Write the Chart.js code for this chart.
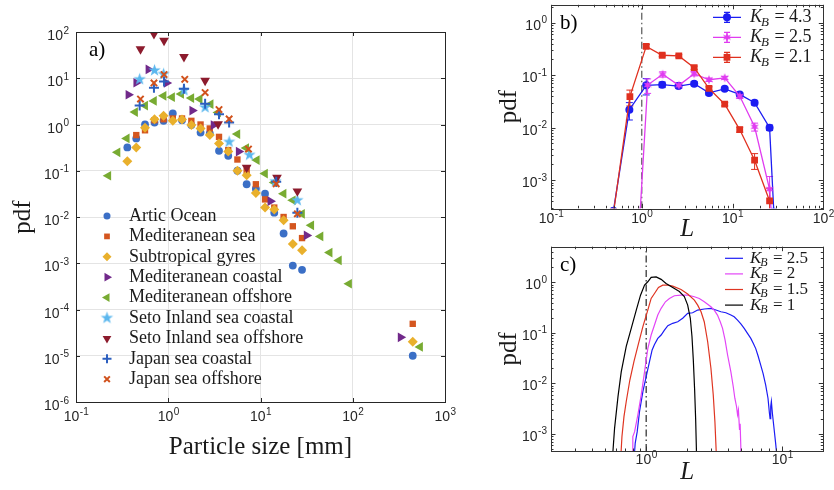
<!DOCTYPE html>
<html>
<head>
<meta charset="utf-8">
<title>Particle size pdf</title>
<script src="https://cdn.jsdelivr.net/npm/chart.js@4.4.1/dist/chart.umd.min.js"></script>
<style>
  html, body { margin: 0; padding: 0; background: #fff; }
  #wrap { position: relative; width: 834px; height: 490px; overflow: hidden; }
  canvas { position: absolute; }
</style>
</head>
<body>
<div id="wrap">
  <canvas id="chartA" width="460" height="490" style="left:0;top:0;width:460px;height:490px"></canvas>
  <canvas id="chartB" width="354" height="245" style="left:480px;top:0;width:354px;height:245px"></canvas>
  <canvas id="chartC" width="354" height="245" style="left:480px;top:245px;width:354px;height:245px"></canvas>
</div>
<script>
// ---------- panel a) field data ----------
var namesA = ['Artic Ocean', 'Mediteranean sea', 'Subtropical gyres', 'Mediteranean coastal',
  'Mediteranean offshore', 'Seto Inland sea coastal', 'Seto Inland sea offshore',
  'Japan sea coastal', 'Japan sea offshore'];

var articX = [0.36, 0.45, 0.56, 0.71, 0.89, 1.12, 1.41, 1.78, 2.24, 2.82, 3.55, 4.47, 5.62, 7.08, 8.91, 11.2, 14.1, 17.8, 22.4, 28.2, 447];
var articY = [0.32, 0.5, 1.0, 1.1, 1.2, 1.73, 1.24, 0.97, 0.67, 0.64, 0.27, 0.21, 0.1, 0.051, 0.041, 0.032, 0.0124, 0.0044, 0.00089, 0.00072, 1.0e-5];

var medSeaX = [0.45, 0.56, 0.71, 0.89, 1.12, 1.41, 1.78, 2.24, 2.82, 3.55, 4.47, 5.62, 7.08, 8.91, 11.2, 14.1, 17.8, 22.4, 28.2, 447];
var medSeaY = [0.59, 0.75, 1.24, 1.3, 1.35, 1.35, 1.2, 1.0, 0.82, 0.54, 0.28, 0.175, 0.1, 0.051, 0.024, 0.016, 0.01, 0.0063, 0.0035, 4.9e-5];

var subtropX = [0.36, 0.45, 0.56, 0.71, 0.89, 1.12, 1.41, 1.78, 2.24, 2.82, 3.55, 4.47, 5.62, 7.08, 8.91, 11.2, 14.1, 17.8, 22.4, 28.2, 447];
var subtropY = [0.16, 0.32, 0.85, 1.3, 1.54, 1.2, 1.28, 0.98, 0.82, 0.59, 0.39, 0.26, 0.1, 0.08, 0.033, 0.016, 0.0145, 0.0085, 0.0026, 0.0019, 2.0e-5];

var medCoastX = [0.37, 0.45, 0.61, 0.96, 1.82, 3.1, 5.8, 12.8, 31.6, 330];
var medCoastY = [4.4, 8.0, 15.5, 7.9, 2.0, 0.97, 0.26, 0.022, 0.004, 2.5e-5];

var medOffX = [0.224, 0.282, 0.355, 0.437, 0.562, 0.70, 0.89, 1.10, 1.38, 1.78, 2.19, 2.88, 3.47, 5.62, 7.0, 9.12, 11.2, 14.1, 17.8, 22.4, 28.2, 35.5, 44.7, 56.2, 70.8, 91.2, 537];
var medOffY = [0.078, 0.25, 0.5, 1.86, 2.57, 3.24, 4.17, 3.89, 4.57, 3.72, 3.55, 2.75, 1.82, 0.62, 0.31, 0.17, 0.087, 0.056, 0.032, 0.023, 0.0117, 0.0066, 0.0038, 0.0017, 0.00115, 0.00036, 1.55e-5];

var setoCoastX = [0.49, 0.71, 0.89, 1.48, 2.51, 4.57, 7.59, 14.5, 25.1];
var setoCoastY = [9.5, 14.8, 12.3, 5.5, 2.34, 0.42, 0.22, 0.059, 0.023];

var setoOffX = [0.50, 0.70, 0.90, 1.48, 2.51, 3.47, 7.08, 15.1, 25.1];
var setoOffY = [42.7, 91, 65, 29, 8.9, 1.02, 0.117, 0.071, 0.036];

var japCoastX = [0.49, 0.70, 0.90, 1.48, 2.51, 3.55, 4.57, 14.8, 25.1];
var japCoastY = [2.57, 6.2, 8.5, 5.9, 2.8, 1.66, 1.1, 0.058, 0.0123];

var japOffX = [0.50, 0.70, 0.90, 1.51, 2.51, 3.55, 4.57, 7.41, 14.8, 25.1];
var japOffY = [3.55, 7.9, 12.0, 9.5, 4.9, 2.1, 1.32, 0.295, 0.052, 0.0117];

// ---------- panel b) model, with error bars ----------
var kbB = ['4.3', '2.5', '2.1'];
var b43X = [0.487, 0.73, 1.12, 1.68, 2.54, 3.78, 5.5, 8.2, 12.0, 17.5, 25.6, 28.5];
var b43Y = [2.6e-4, 0.022, 0.064, 0.066, 0.062, 0.069, 0.046, 0.055, 0.043, 0.030, 0.010, 2.5e-4];
var b43Err = [0, 0.008, 0.022, 0.008, 0.006, 0.006, 0.004, 0.004, 0.003, 0.003, 0.0012, 0];
var b25X = [0.96, 1.16, 1.70, 2.56, 3.78, 5.5, 8.2, 12.0, 17.5, 25.6, 26.7];
var b25Y = [2.5e-4, 0.065, 0.104, 0.064, 0.107, 0.082, 0.089, 0.040, 0.0104, 6.7e-4, 2.5e-4];
var b25Err = [0, 0.02, 0.012, 0.008, 0.01, 0.006, 0.006, 0.004, 0.0018, 0.0005, 0];
var b21X = [0.49, 0.74, 1.12, 1.68, 2.56, 3.78, 5.5, 8.2, 12.0, 17.5, 25.6];
var b21Y = [2.5e-4, 0.039, 0.355, 0.24, 0.233, 0.139, 0.056, 0.028, 0.0092, 0.0024, 4.0e-4];
var b21Err = [0, 0.013, 0.03, 0.015, 0.012, 0.01, 0.004, 0.002, 0.001, 0.0008, 0.0003];

// ---------- panel c) model curves ----------
var kbC = ['2.5', '2', '1.5', '1'];
var c25X = [0.813, 0.831, 0.859, 0.894, 0.946, 1.0, 1.058, 1.106, 1.151, 1.217, 1.288, 1.362, 1.442, 1.567, 1.706, 1.855, 2.018, 2.194, 2.388, 2.673, 2.99, 3.25, 3.54, 3.85, 4.19, 4.43, 4.69, 4.96, 5.25, 5.55, 5.87, 6.13, 6.38, 6.64, 6.94, 7.22, 7.55, 7.85, 8.04, 8.13, 8.22, 8.31, 8.45, 8.69, 8.93, 9.19];
var c25Y = [3e-4, 6.6e-4, 1.1e-3, 2.8e-3, 6.9e-3, 0.0136, 0.027, 0.046, 0.059, 0.078, 0.091, 0.114, 0.139, 0.155, 0.167, 0.195, 0.244, 0.251, 0.284, 0.298, 0.306, 0.284, 0.263, 0.251, 0.226, 0.209, 0.18, 0.151, 0.123, 0.098, 0.078, 0.062, 0.049, 0.035, 0.023, 0.0158, 0.0093, 0.0051, 0.0026, 0.0020, 0.0035, 0.0044, 0.0026, 0.0013, 6.6e-4, 3e-4];
var c2X = [0.794, 0.798, 0.822, 0.869, 0.919, 0.973, 1.028, 1.088, 1.151, 1.217, 1.288, 1.385, 1.482, 1.611, 1.804, 2.018, 2.26, 2.456, 2.673, 2.99, 3.16, 3.34, 3.50, 3.64, 3.80, 3.96, 4.19, 4.36, 4.48, 4.61, 4.69, 4.76, 4.85, 4.90, 4.99];
var c2Y = [3e-4, 8.9e-4, 1.1e-3, 2.4e-3, 5.9e-3, 0.017, 0.049, 0.091, 0.144, 0.226, 0.307, 0.414, 0.482, 0.545, 0.562, 0.562, 0.52, 0.482, 0.414, 0.33, 0.283, 0.226, 0.166, 0.123, 0.072, 0.037, 0.017, 0.0087, 0.0051, 0.0035, 0.0024, 0.0030, 0.0012, 0.0016, 3e-4];
var c15X = [0.649, 0.664, 0.687, 0.714, 0.759, 0.813, 0.879, 0.946, 1.028, 1.088, 1.151, 1.231, 1.324, 1.442, 1.567, 1.804, 2.018, 2.26, 2.39, 2.53, 2.67, 2.83, 2.99, 3.11, 3.20, 3.29];
var c15Y = [3e-4, 8.9e-4, 2.2e-3, 4.4e-3, 0.0117, 0.027, 0.062, 0.133, 0.284, 0.483, 0.605, 0.796, 0.885, 0.885, 0.846, 0.727, 0.588, 0.447, 0.355, 0.263, 0.167, 0.067, 0.020, 0.0059, 0.0017, 3e-4];
var c1X = [0.564, 0.586, 0.621, 0.656, 0.714, 0.777, 0.845, 0.909, 0.973, 1.028, 1.088, 1.184, 1.288, 1.40, 1.567, 1.753, 1.907, 2.018, 2.11, 2.17, 2.22, 2.27, 2.31, 2.35];
var c1Y = [3e-4, 1.29e-3, 5.5e-3, 0.017, 0.054, 0.123, 0.28, 0.56, 0.89, 1.03, 1.26, 1.29, 1.15, 0.955, 0.79, 0.66, 0.525, 0.355, 0.195, 0.085, 0.029, 0.0074, 0.0019, 3e-4];

var refL = 1; // dash-dot reference line in b) and c)

// axis limits
var aLimX = [0.1, 1000], aLimY = [1e-6, 100];
var bLimX = [0.1, 100], bLimY = [2.9e-4, 2.2];
var cLimX = [0.2, 20], cLimY = [4.6e-4, 5.1];

// ---------- helpers ----------
var SERIF = '"Liberation Serif", "Times New Roman", serif';
var SANS = '"Liberation Sans", Arial, sans-serif';

function decades(scale) {
  var out = [];
  var lo = Math.ceil(Math.log10(scale.min) - 1e-9), hi = Math.floor(Math.log10(scale.max) + 1e-9);
  for (var e = lo; e <= hi; e++) out.push({ value: Math.pow(10, e) });
  scale.ticks = out;
}
function logMarks(scale) {
  var out = [];
  for (var e = Math.floor(Math.log10(scale.min)); e <= Math.ceil(Math.log10(scale.max)); e++) {
    for (var k = 1; k < 10; k++) {
      var v = k * Math.pow(10, e);
      if (v >= scale.min * 0.9999 && v <= scale.max * 1.0001) out.push({ v: v, major: k === 1 });
    }
  }
  return out;
}
function pts(xs, ys) {
  return xs.map(function (x, i) { return { x: x, y: ys[i] }; });
}
function starImg(rOut, color, n, inner) {
  var c = document.createElement('canvas');
  c.width = c.height = Math.ceil(rOut * 2 + 2);
  var g = c.getContext('2d'), m = c.width / 2;
  g.fillStyle = color;
  g.beginPath();
  for (var i = 0; i < 2 * n; i++) {
    var r = i % 2 ? rOut * inner : rOut;
    var a = -Math.PI / 2 + i * Math.PI / n;
    g.lineTo(m + r * Math.cos(a), m + r * Math.sin(a));
  }
  g.closePath();
  g.fill();
  return c;
}
function logAxis(o) {
  return {
    type: 'logarithmic', position: o.pos, min: o.lim[0], max: o.lim[1],
    afterBuildTicks: decades,
    afterFit: function (s) { if (o.pos === 'left') s.width = o.size; else s.height = o.size; },
    grid: { display: !!o.grid, color: '#e4e4e4', lineWidth: 1, drawTicks: false },
    border: { display: false },
    ticks: { display: false },
    title: {
      display: true, text: o.title, color: '#1a1a1a',
      font: { family: SERIF, size: 25, style: o.italic ? 'italic' : 'normal' },
      padding: o.tpad
    }
  };
}
// "10" with a raised exponent, as in the original tick labels
function drawPow(ctx, v, x, base, align) {
  var e = String(Math.round(Math.log10(v)));
  ctx.font = '14px ' + SANS;
  var w1 = ctx.measureText('10').width;
  ctx.font = '10px ' + SANS;
  var w2 = ctx.measureText(e).width;
  var x0 = align === 'right' ? x - w1 - w2 - 0.5 : x - (w1 + w2) / 2;
  ctx.textAlign = 'left';
  ctx.textBaseline = 'alphabetic';
  ctx.font = '14px ' + SANS;
  ctx.fillText('10', x0, base);
  ctx.font = '10px ' + SANS;
  ctx.fillText(e, x0 + w1 + 0.5, base - 6.5);
}
function drawKB(ctx, x, y, val, size) {
  ctx.font = 'italic ' + size + 'px ' + SERIF;
  ctx.fillText('K', x, y);
  var w = ctx.measureText('K').width;
  ctx.font = 'italic ' + Math.round(size * 0.7) + 'px ' + SERIF;
  ctx.fillText('B', x + w - 1, y + size * 0.28);
  var w2 = ctx.measureText('B').width;
  ctx.font = size + 'px ' + SERIF;
  ctx.fillText(' = ' + val, x + w + w2, y);
}

// box with inward ticks and decade labels, like the original axes
var framePlugin = {
  id: 'frame',
  afterDatasetsDraw: function (chart, args, o) {
    var ctx = chart.ctx, a = chart.chartArea, xs = chart.scales.x, ys = chart.scales.y;
    ctx.save();
    ctx.strokeStyle = o.color;
    ctx.lineWidth = 1;
    ctx.beginPath();
    logMarks(xs).forEach(function (m) {
      var len = m.major ? o.major : o.minor;
      if (!len) return;
      var p = Math.round(xs.getPixelForValue(m.v)) + 0.5;
      ctx.moveTo(p, a.bottom); ctx.lineTo(p, a.bottom - len);
      ctx.moveTo(p, a.top); ctx.lineTo(p, a.top + len);
    });
    logMarks(ys).forEach(function (m) {
      var len = m.major ? o.major : o.minor;
      if (!len) return;
      var p = Math.round(ys.getPixelForValue(m.v)) + 0.5;
      ctx.moveTo(a.left, p); ctx.lineTo(a.left + len, p);
      ctx.moveTo(a.right, p); ctx.lineTo(a.right - len, p);
    });
    ctx.stroke();
    ctx.strokeRect(Math.round(a.left) + 0.5, Math.round(a.top) + 0.5, Math.round(a.right - a.left), Math.round(a.bottom - a.top));
    ctx.fillStyle = '#262626';
    xs.ticks.forEach(function (t) {
      drawPow(ctx, t.value, xs.getPixelForValue(t.value), a.bottom + o.xBase, 'center');
    });
    ys.ticks.forEach(function (t) {
      drawPow(ctx, t.value, a.left - o.yGap, ys.getPixelForValue(t.value) + o.yBase, 'right');
    });
    if (o.tag) {
      ctx.fillStyle = '#000';
      ctx.font = '21px ' + SERIF;
      ctx.textBaseline = 'middle';
      ctx.fillText(o.tag, o.tagX, o.tagY);
    }
    ctx.restore();
  }
};

// legend of marker series, drawn inside the axes
var markerLegend = {
  id: 'markerLegend',
  afterDraw: function (chart, args, o) {
    var ctx = chart.ctx;
    ctx.save();
    chart.data.datasets.forEach(function (ds, i) {
      var y = o.y + i * o.dy;
      ctx.fillStyle = ds.pointBackgroundColor;
      ctx.strokeStyle = ds.pointBorderColor;
      ctx.lineWidth = ds.pointBorderWidth;
      Chart.helpers.drawPoint(ctx, { pointStyle: ds.pointStyle, radius: ds.pointRadius * 0.9, rotation: ds.pointRotation, borderWidth: ds.pointBorderWidth }, o.x, y);
      ctx.fillStyle = '#1a1a1a';
      ctx.font = o.size + 'px ' + SERIF;
      ctx.textBaseline = 'middle';
      ctx.fillText(ds.label, o.tx, y);
    });
    ctx.restore();
  }
};

// legend "K_B = ..." with line swatches
var kbLegend = {
  id: 'kbLegend',
  afterDraw: function (chart, args, o) {
    var ctx = chart.ctx;
    ctx.save();
    chart.data.datasets.forEach(function (ds) {
      if (ds.kb === undefined) return;
      var y = o.y + ds.kbRow * o.dy, xm = (o.x0 + o.x1) / 2;
      ctx.strokeStyle = ds.borderColor;
      ctx.lineWidth = ds.borderWidth;
      ctx.beginPath();
      ctx.moveTo(o.x0, y); ctx.lineTo(o.x1, y);
      if (ds.errors) {
        ctx.moveTo(xm, y - 5); ctx.lineTo(xm, y + 5);
        ctx.moveTo(xm - 3, y - 5); ctx.lineTo(xm + 3, y - 5);
        ctx.moveTo(xm - 3, y + 5); ctx.lineTo(xm + 3, y + 5);
      }
      ctx.stroke();
      if (ds.pointRadius > 0) {
        ctx.fillStyle = ds.pointBackgroundColor;
        Chart.helpers.drawPoint(ctx, { pointStyle: ds.pointStyle, radius: ds.pointRadius, rotation: 0, borderWidth: 0 }, xm, y);
      }
      ctx.fillStyle = '#1a1a1a';
      ctx.textBaseline = 'middle';
      drawKB(ctx, o.tx, y, ds.kb, o.size);
    });
    ctx.restore();
  }
};

// symmetric error bars taken from dataset.errors
var errorBars = {
  id: 'errorBars',
  beforeDatasetsDraw: function (chart) {
    var ctx = chart.ctx, a = chart.chartArea, xs = chart.scales.x, ys = chart.scales.y;
    ctx.save();
    ctx.beginPath();
    ctx.rect(a.left, a.top, a.right - a.left, a.bottom - a.top);
    ctx.clip();
    chart.data.datasets.forEach(function (ds) {
      if (!ds.errors) return;
      ctx.strokeStyle = ds.borderColor;
      ctx.lineWidth = 1;
      ds.data.forEach(function (p, i) {
        var e = ds.errors[i];
        if (!e) return;
        var x = xs.getPixelForValue(p.x);
        var y1 = ys.getPixelForValue(p.y + e);
        var y2 = ys.getPixelForValue(Math.max(p.y - e, ys.min * 0.01));
        ctx.beginPath();
        ctx.moveTo(x, y1); ctx.lineTo(x, y2);
        ctx.moveTo(x - 3.5, y1); ctx.lineTo(x + 3.5, y1);
        ctx.moveTo(x - 3.5, y2); ctx.lineTo(x + 3.5, y2);
        ctx.stroke();
      });
    });
    ctx.restore();
  }
};

var baseOpts = {
  responsive: false,
  animation: false,
  events: []
};

// ---------- chart a ----------
var seriesA = [
  [articX, articY], [medSeaX, medSeaY], [subtropX, subtropY], [medCoastX, medCoastY],
  [medOffX, medOffY], [setoCoastX, setoCoastY], [setoOffX, setoOffY],
  [japCoastX, japCoastY], [japOffX, japOffY]
];
var styleA = [
  { color: '#3b6fc6', shape: 'circle', r: 3.9 },
  { color: '#d4561f', shape: 'rect', r: 4.5 },
  { color: '#e9b02c', shape: 'rectRot', r: 5 },
  { color: '#71298a', shape: 'triangle', r: 5.6, rot: 90 },
  { color: '#78ab32', shape: 'triangle', r: 5.6, rot: 270 },
  { color: '#5bb7ee', shape: starImg(6.5, '#5bb7ee', 5, 0.4), r: 6 },
  { color: '#8c1b2d', shape: 'triangle', r: 5.6, rot: 180 },
  { color: '#2c5fbf', shape: 'cross', r: 5, line: 2 },
  { color: '#d1521d', shape: 'crossRot', r: 4.5, line: 2 }
];

new Chart(document.getElementById('chartA'), {
  type: 'scatter',
  data: {
    datasets: seriesA.map(function (s, i) {
      var st = styleA[i];
      return {
        label: namesA[i],
        data: pts(s[0], s[1]),
        pointStyle: st.shape,
        pointRadius: st.r,
        pointRotation: st.rot || 0,
        pointBackgroundColor: st.color,
        pointBorderColor: st.color,
        pointBorderWidth: st.line || 0,
        order: -i
      };
    })
  },
  options: Object.assign({}, baseOpts, {
    layout: { padding: { top: 32, right: 15, left: 0, bottom: 0 } },
    scales: {
      x: logAxis({ pos: 'bottom', lim: aLimX, size: 88, grid: true, title: 'Particle size [mm]', tpad: { top: 0, bottom: 28 } }),
      y: logAxis({ pos: 'left', lim: aLimY, size: 76, grid: true, title: 'pdf', tpad: { top: 8, bottom: 0 } })
    },
    plugins: {
      legend: { display: false },
      tooltip: { enabled: false },
      frame: { color: '#262626', major: 4, minor: 0, xBase: 19, yGap: 7, yBase: 8, tag: 'a)', tagX: 89, tagY: 50 },
      markerLegend: { x: 107, tx: 129, y: 216, dy: 20.4, size: 18 }
    }
  }),
  plugins: [framePlugin, markerLegend]
});

// ---------- chart b ----------
new Chart(document.getElementById('chartB'), {
  type: 'scatter',
  data: {
    datasets: [
      { kb: kbB[0], kbRow: 0, data: pts(b43X, b43Y), errors: b43Err, showLine: true, borderColor: '#1c1cf2', borderWidth: 1.3,
        pointStyle: 'circle', pointRadius: 4, pointBackgroundColor: '#1c1cf2', pointBorderWidth: 0, order: 0 },
      { kb: kbB[1], kbRow: 1, data: pts(b25X, b25Y), errors: b25Err, showLine: true, borderColor: '#e03cf0', borderWidth: 1.3,
        pointStyle: starImg(4.8, '#e03cf0', 6, 0.45), pointRadius: 4, pointBackgroundColor: '#e03cf0', pointBorderWidth: 0, order: -1 },
      { kb: kbB[2], kbRow: 2, data: pts(b21X, b21Y), errors: b21Err, showLine: true, borderColor: '#e0301f', borderWidth: 1.3,
        pointStyle: 'rect', pointRadius: 4.8, pointBackgroundColor: '#e0301f', pointBorderWidth: 0, order: -2 },
      { data: [{ x: refL, y: bLimY[0] }, { x: refL, y: bLimY[1] }], showLine: true, borderColor: '#555', borderWidth: 1.2,
        borderDash: [7, 3, 1.5, 3], pointRadius: 0, order: 5 }
    ]
  },
  options: Object.assign({}, baseOpts, {
    layout: { padding: { top: 4.7, right: 10.7, left: 0, bottom: 0 } },
    scales: {
      x: logAxis({ pos: 'bottom', lim: bLimX, size: 36.7, title: 'L', italic: true, tpad: { top: 0, bottom: 0.5 } }),
      y: logAxis({ pos: 'left', lim: bLimY, size: 71, title: 'pdf', tpad: { top: 14, bottom: 0 } })
    },
    plugins: {
      legend: { display: false },
      tooltip: { enabled: false },
      frame: { color: '#333', major: 4.5, minor: 2.5, xBase: 15, yGap: 4, yBase: 7, tag: 'b)', tagX: 80, tagY: 23 },
      kbLegend: { x0: 233, x1: 261, tx: 270, y: 17.3, dy: 20, size: 18 }
    }
  }),
  plugins: [errorBars, framePlugin, kbLegend]
});

// ---------- chart c ----------
var seriesC = [[c25X, c25Y, '#1c1cf5'], [c2X, c2Y, '#e345f7'], [c15X, c15Y, '#df3522'], [c1X, c1Y, '#000000']];
var dsC = seriesC.map(function (s, i) {
  return { kb: kbC[i], kbRow: i, data: pts(s[0], s[1]), showLine: true, borderColor: s[2], borderWidth: 1.2, pointRadius: 0, order: -i };
});
dsC.push({ data: [{ x: refL, y: cLimY[0] }, { x: refL, y: cLimY[1] }], showLine: true, borderColor: '#111', borderWidth: 1.1,
  borderDash: [7, 3, 1.5, 3], pointRadius: 0, order: 5 });

new Chart(document.getElementById('chartC'), {
  type: 'scatter',
  data: { datasets: dsC },
  options: Object.assign({}, baseOpts, {
    layout: { padding: { top: 1.7, right: 10.7, left: 0, bottom: 0 } },
    scales: {
      x: logAxis({ pos: 'bottom', lim: cLimX, size: 39, title: 'L', italic: true, tpad: { top: 0, bottom: 2.5 } }),
      y: logAxis({ pos: 'left', lim: cLimY, size: 71, title: 'pdf', tpad: { top: 14, bottom: 0 } })
    },
    plugins: {
      legend: { display: false },
      tooltip: { enabled: false },
      frame: { color: '#333', major: 4.5, minor: 2.5, xBase: 13, yGap: 4, yBase: 7, tag: 'c)', tagX: 80, tagY: 20 },
      kbLegend: { x0: 245, x1: 263, tx: 270, y: 13.3, dy: 15.6, size: 17 }
    }
  }),
  plugins: [framePlugin, kbLegend]
});
</script>
</body>
</html>
